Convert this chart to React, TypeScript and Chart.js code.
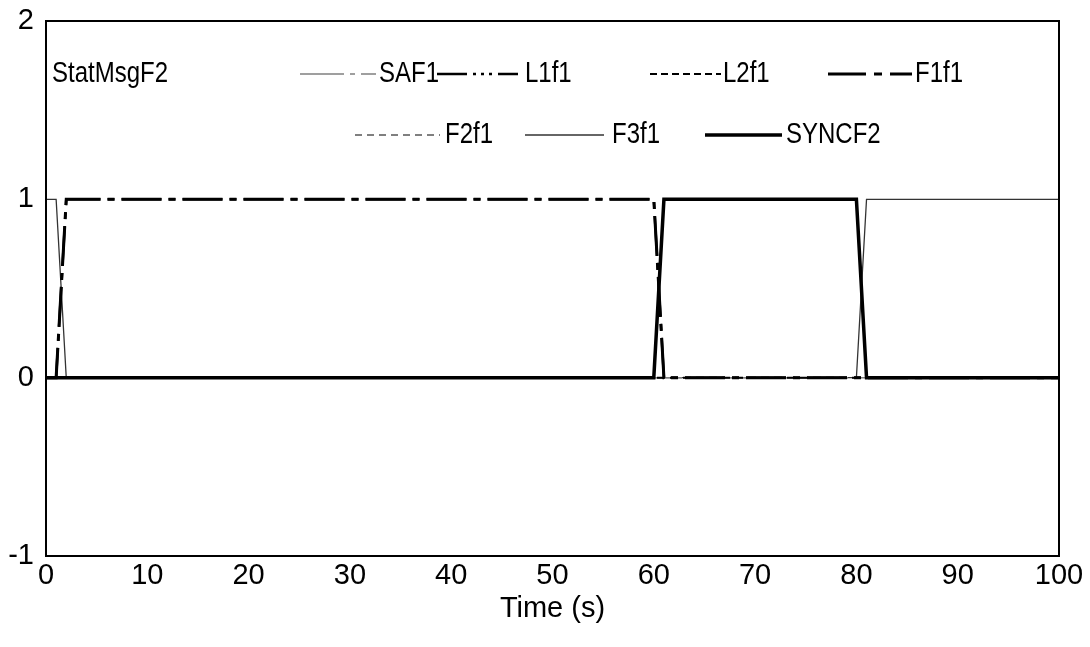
import React, { useEffect, useRef } from "react";
import { Chart, registerables } from "chart.js";

Chart.register(...registerables);

const FONT = '"Liberation Sans", Arial, sans-serif';

// ---- data ----
const timeS = [0, 1, 2, 60, 61, 80, 81, 100];
const saf1 = [0, 0, 0, 0, 0, 0, 0, 0];
const l1f1 = [0, 0, 1, 1, 0, 0, 0, 0];
const l2f1 = [0, 0, 0, 0, 0, 0, 0, 0];
const f1f1 = [0, 0, 1, 1, 0, 0, 0, 0];
const f2f1 = [0, 0, 0, 0, 0, 0, 0, 0];
const f3f1 = [1, 1, 0, 0, 0, 0, 1, 1];
const syncf2 = [0, 0, 0, 0, 1, 1, 0, 0];
const seriesNames = ["SAF1", "L1f1", "L2f1", "F1f1", "F2f1", "F3f1", "SYNCF2"];
const seriesValues = [saf1, l1f1, l2f1, f1f1, f2f1, f3f1, syncf2];
const xTickValues = [0, 10, 20, 30, 40, 50, 60, 70, 80, 90, 100];
const yTickValues = [-1, 0, 1, 2];
const panelTitle = "StatMsgF2";
const xAxisTitle = "Time (s)";

// ---- styles ----
const seriesStyles = [
  { color: "#808080", width: 1.5, dash: [44, 6, 5, 6, 16, 6], legendDash: [44, 6, 5, 6, 16, 6], order: 5 },
  { color: "#000000", width: 2.5, dash: [40, 7, 7, 7], legendDash: [30, 6, 3, 5, 3, 5, 3, 6, 20], order: 3 },
  { color: "#000000", width: 2, dash: [8, 5], legendDash: [7, 4], order: 4 },
  { color: "#000000", width: 3, dash: [40, 7, 7, 7], legendDash: [38, 8, 8, 8, 30], order: 2 },
  { color: "#000000", width: 1, dash: [8, 5], legendDash: [7, 5], order: 6 },
  { color: "#333333", width: 1.3, dash: [], legendDash: [], order: 7 },
  { color: "#000000", width: 3.5, dash: [], legendDash: [], order: 1 },
];

// legend placement: [row, lineStart, lineEnd, textX]
const legendPlacement = [
  [0, 300, 376, 379],
  [0, 437, 521, 525],
  [0, 650, 721, 723],
  [0, 828, 912, 915],
  [1, 355, 440, 445],
  [1, 525, 604, 612],
  [1, 705, 782, 786],
];
const legendRowY = [74, 135];
const NARROW = 0.8;
const LEGEND_FONT_SIZE = 30;

function narrowText(ctx: CanvasRenderingContext2D, text: string, x: number, y: number) {
  ctx.save();
  ctx.translate(x, y);
  ctx.scale(NARROW, 1);
  ctx.fillText(text, 0, 0);
  ctx.restore();
}

const framePlugin = {
  id: "frameLegend",
  afterDatasetsDraw(chart: any) {
    const { ctx, chartArea } = chart;
    const { left, top, right, bottom } = chartArea;
    ctx.save();
    ctx.setLineDash([]);
    ctx.strokeStyle = "#000";
    ctx.lineWidth = 2;
    ctx.strokeRect(left, top, right - left, bottom - top);

    ctx.font = `${LEGEND_FONT_SIZE}px ${FONT}`;
    ctx.fillStyle = "#000";
    ctx.textBaseline = "middle";
    ctx.textAlign = "left";
    narrowText(ctx, panelTitle, 52, legendRowY[0]);

    seriesNames.forEach((name, i) => {
      const [row, x0, x1, tx] = legendPlacement[i];
      const st = seriesStyles[i];
      const y = legendRowY[row];
      ctx.beginPath();
      ctx.strokeStyle = st.color;
      ctx.lineWidth = st.width;
      ctx.setLineDash(st.legendDash);
      ctx.moveTo(x0, y);
      ctx.lineTo(x1, y);
      ctx.stroke();
      ctx.setLineDash([]);
      ctx.fillStyle = "#000";
      narrowText(ctx, name, tx, y);
    });
    ctx.restore();
  },
};

export default function App() {
  const ref = useRef<HTMLCanvasElement | null>(null);

  useEffect(() => {
    if (!ref.current) return;
    const datasets = seriesNames.map((name, i) => ({
      label: name,
      data: timeS.map((t, k) => ({ x: t, y: seriesValues[i][k] })),
      borderColor: seriesStyles[i].color,
      borderWidth: seriesStyles[i].width,
      borderDash: seriesStyles[i].dash,
      order: seriesStyles[i].order,
      pointRadius: 0,
      fill: false,
      tension: 0,
    }));
    const tickFont = { family: FONT, size: 29 };
    const chart = new Chart(ref.current, {
      type: "line",
      data: { datasets },
      options: {
        animation: false,
        responsive: false,
        layout: { padding: { top: 21, right: 31, left: 0, bottom: 0 } },
        plugins: { legend: { display: false }, tooltip: { enabled: false } },
        scales: {
          x: {
            type: "linear",
            min: 0,
            max: 100,
            afterBuildTicks: (s: any) => {
              s.ticks = xTickValues.map((v) => ({ value: v }));
            },
            ticks: { font: tickFont, color: "#000", padding: 3, maxRotation: 0, autoSkip: false },
            grid: { display: false, drawTicks: false },
            border: { display: false },
            title: {
              display: true,
              text: xAxisTitle,
              font: tickFont,
              color: "#000",
              padding: { top: 0, bottom: 21 },
            },
            afterFit: (s: any) => {
              s.height = 91;
            },
          },
          y: {
            min: -1,
            max: 2,
            afterBuildTicks: (s: any) => {
              s.ticks = yTickValues.map((v) => ({ value: v }));
            },
            ticks: { font: tickFont, color: "#000", padding: 12 },
            grid: { display: false, drawTicks: false },
            border: { display: false },
            afterFit: (s: any) => {
              s.width = 46;
              s.paddingTop = 21;
              s.paddingBottom = 0;
            },
          },
        },
      },
      plugins: [framePlugin],
    } as any);
    return () => chart.destroy();
  }, []);

  return (
    <div style={{ position: "absolute", left: 0, top: 0, width: 1090, height: 647, background: "#fff" }}>
      <canvas ref={ref} width={1090} height={647} />
    </div>
  );
}
